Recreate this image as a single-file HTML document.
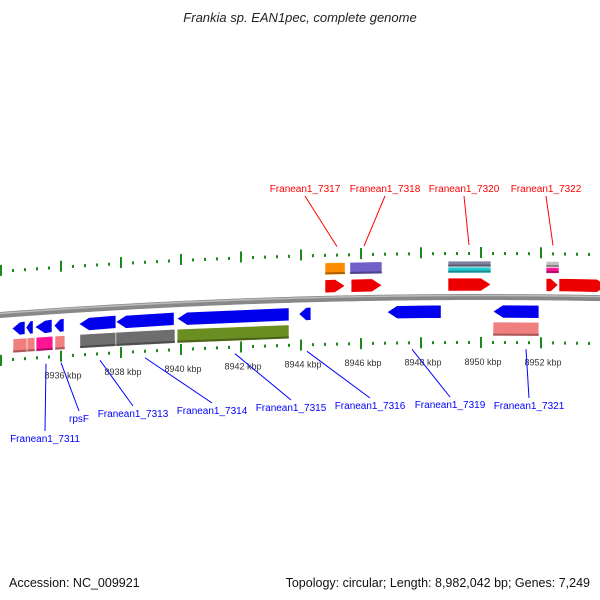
<!DOCTYPE html>
<html><head><meta charset="utf-8"><style>
body{margin:0;background:#fff}
svg{display:block;font-family:"Liberation Sans",sans-serif}
</style></head><body>
<svg id="chart" width="600" height="600" viewBox="0 0 600 600">
<text x="300" y="22" text-anchor="middle" font-size="13" font-style="italic" fill="#222">Frankia sp. EAN1pec, complete genome</text>
<text x="9" y="587" font-size="12.5" fill="#111">Accession: NC_009921</text>
<text x="590" y="587" text-anchor="end" font-size="12.5" fill="#111">Topology: circular; Length: 8,982,042 bp; Genes: 7,249</text>
<g id="layer"></g>
</svg>
<script>
// data (kbp)
const majorTicks = [8934, 8936, 8938, 8940, 8942, 8944, 8946, 8948, 8950, 8952, 8954];
const tickLabels = ["8936 kbp","8938 kbp","8940 kbp","8942 kbp","8944 kbp","8946 kbp","8948 kbp","8950 kbp","8952 kbp"];
const tickLabelPos = [8936, 8938, 8940, 8942, 8944, 8946, 8948, 8950, 8952];
const revStarts = [8934.37, 8934.83, 8935.13, 8935.77, 8936.6, 8937.83, 8939.87, 8943.93, 8946.87, 8950.4];
const revEnds   = [8934.8, 8935.07, 8935.7, 8936.1, 8937.83, 8939.77, 8943.6, 8944.33, 8948.67, 8951.93];
const fwdStarts = [8944.8, 8945.67, 8948.9, 8952.17, 8952.6];
const fwdEnds   = [8945.47, 8946.7, 8950.33, 8952.57, 8954.2];
const lowStarts = [8934.4, 8934.87, 8935.17, 8935.8, 8936.63, 8937.83, 8939.87, 8950.4];
const lowEnds   = [8934.87, 8935.13, 8935.73, 8936.13, 8937.83, 8939.8, 8943.6, 8951.93];
const lowColors = ["#f08080","#f08080","#ff1493","#f08080","#6e6e6e","#6e6e6e","#6b8e23","#f08080"];
const featStarts = [8944.8, 8945.63, 8948.9, 8952.17];
const featEnds   = [8945.47, 8946.7, 8950.33, 8952.6];
const featColors = ["#ff8c00","#7060c8","#404080","#c0c0c0"];
const topNames = ["Franean1_7317","Franean1_7318","Franean1_7320","Franean1_7322"];
const topGenePos = [8945.2, 8946.1, 8949.6, 8952.4];
const topLabelX = [305, 385, 464, 546];
const botNames = ["Franean1_7311","rpsF","Franean1_7313","Franean1_7314","Franean1_7315","Franean1_7316","Franean1_7319","Franean1_7321"];
const botGenePos = [8935.5, 8936.0, 8937.3, 8938.8, 8941.8, 8944.2, 8947.7, 8951.5];
const botLabelX = [45, 79, 133, 212, 291, 370, 450, 529];
const botLabelY = [442, 422, 417, 414, 411, 409, 408, 409];

const NS = "http://www.w3.org/2000/svg";
const layer = document.getElementById("layer");
const X = k => 61 + (k - 8936) * 30;
const C = x => 297 + 7.8e-5 * (x - 480) * (x - 480);
function mk(tag, attrs){ const e=document.createElementNS(NS,tag); for(const a in attrs) e.setAttribute(a,attrs[a]); layer.appendChild(e); return e; }

// backbone
let d = "";
for (let x = -5; x <= 605; x += 5) d += (x === -5 ? "M" : "L") + x + "," + C(x).toFixed(2);
let bb = mk("path", {d: d, stroke: "#888", "stroke-width": 6, fill: "none"});


let bb2 = mk("path", {d: d, stroke: "#bbb", "stroke-width": 1.5, fill: "none", transform: "translate(0,-1.5)"});



// ticks
for (let i = 0; i < majorTicks.length - 1; i++) {
  for (let j = 0; j < 5; j++) {
    const k = majorTicks[i] + j * 0.4, x = X(k), c = C(x);
    if (x < 0 || x > 600) continue;
    const isMaj = j === 0;
    [[-44, -50, -39], [45, 40, 51]].forEach((o, r) => {
      let t;
      if (isMaj) t = mk("rect", {x: x - 1, y: c + o[1], width: 2, height: o[2] - o[1], fill: "#1a8a1a"});
      else t = mk("rect", {x: x - 1, y: c + o[0] - 1, width: 2, height: 3, fill: "#1a8a1a"});
      
      
    });
  }
}
tickLabels.forEach((s, i) => {
  const x = X(tickLabelPos[i]) + 2;
  const t = mk("text", {x: x, y: C(x) + 68, "font-size": 9, fill: "#333", "text-anchor": "middle"});
  t.textContent = s;
  
  
});

function box(k0, k1, o0, o1, fill, name) {
  const x0 = X(k0), x1 = Math.min(X(k1), 610);
  const p = `${x0},${C(x0)+o0} ${x1},${C(x1)+o0} ${x1},${C(x1)+o1} ${x0},${C(x0)+o1}`;
  const e = mk("polygon", {points: p, fill: fill, stroke: "#fff", "stroke-width": 0.6});
  
  
  const s = mk("line", {x1: x0, y1: C(x0)+o1-1.5, x2: x1, y2: C(x1)+o1-1.5, stroke: "rgba(0,0,0,0.3)", "stroke-width": 2});
  
  
}
function arrow(k0, k1, o0, o1, fill, dir, name) {
  const x0 = X(k0), x1 = Math.min(X(k1), 615), h = Math.min(10, (x1 - x0) * 0.6), m = (o0 + o1) / 2;
  let p;
  if (dir > 0) p = `${x0},${C(x0)+o0} ${x1-h},${C(x1)+o0} ${x1},${C(x1)+m} ${x1-h},${C(x1)+o1} ${x0},${C(x0)+o1}`;
  else p = `${x0},${C(x0)+m} ${x0+h},${C(x0)+o0} ${x1},${C(x1)+o0} ${x1},${C(x1)+o1} ${x0+h},${C(x0)+o1}`;
  const e = mk("polygon", {points: p, fill: fill, stroke: "#fff", "stroke-width": 0.6});
  
  
}
revStarts.forEach((s, i) => arrow(s, revEnds[i], 8, 21, "#0000ee", -1, 'reverse-gene'));
fwdStarts.forEach((s, i) => arrow(s, fwdEnds[i], -19, -6, "#ee0000", 1, 'forward-gene'));
lowStarts.forEach((s, i) => box(s, lowEnds[i], 25, 39, lowColors[i], 'reverse-feature'));
featStarts.forEach((s, i) => {
  if (i === 2) {
    box(s, featEnds[i], -36, -30, "#8080a0", 'forward-feature');
    box(s, featEnds[i], -30, -24, "#20c8d0", 'forward-feature-cyan');
  } else if (i === 3) {
    box(s, featEnds[i], -36, -30, "#c0c0c0", 'forward-feature');
    box(s, featEnds[i], -30, -24, "#ff1493", 'forward-feature-magenta');
  } else box(s, featEnds[i], -36, -24, featColors[i], 'forward-feature');
});

// labels
topNames.forEach((n, i) => {
  const gx = X(topGenePos[i]);
  const l = mk("line", {x1: topLabelX[i], y1: 196, x2: gx, y2: C(gx) - 52, stroke: "#ff0000", "stroke-width": 1});
  
  
  const t = mk("text", {x: topLabelX[i], y: 192, "font-size": 10, fill: "#ff0000", "text-anchor": "middle"});
  t.textContent = n;
  
  
});
botNames.forEach((n, i) => {
  const gx = X(botGenePos[i]);
  const l = mk("line", {x1: gx, y1: C(gx) + 52, x2: botLabelX[i], y2: botLabelY[i] - 11, stroke: "#0000ff", "stroke-width": 1});
  
  
  const t = mk("text", {x: botLabelX[i], y: botLabelY[i], "font-size": 10, fill: "#0000ff", "text-anchor": "middle"});
  t.textContent = n;
  
  
});
</script>
</body></html>
